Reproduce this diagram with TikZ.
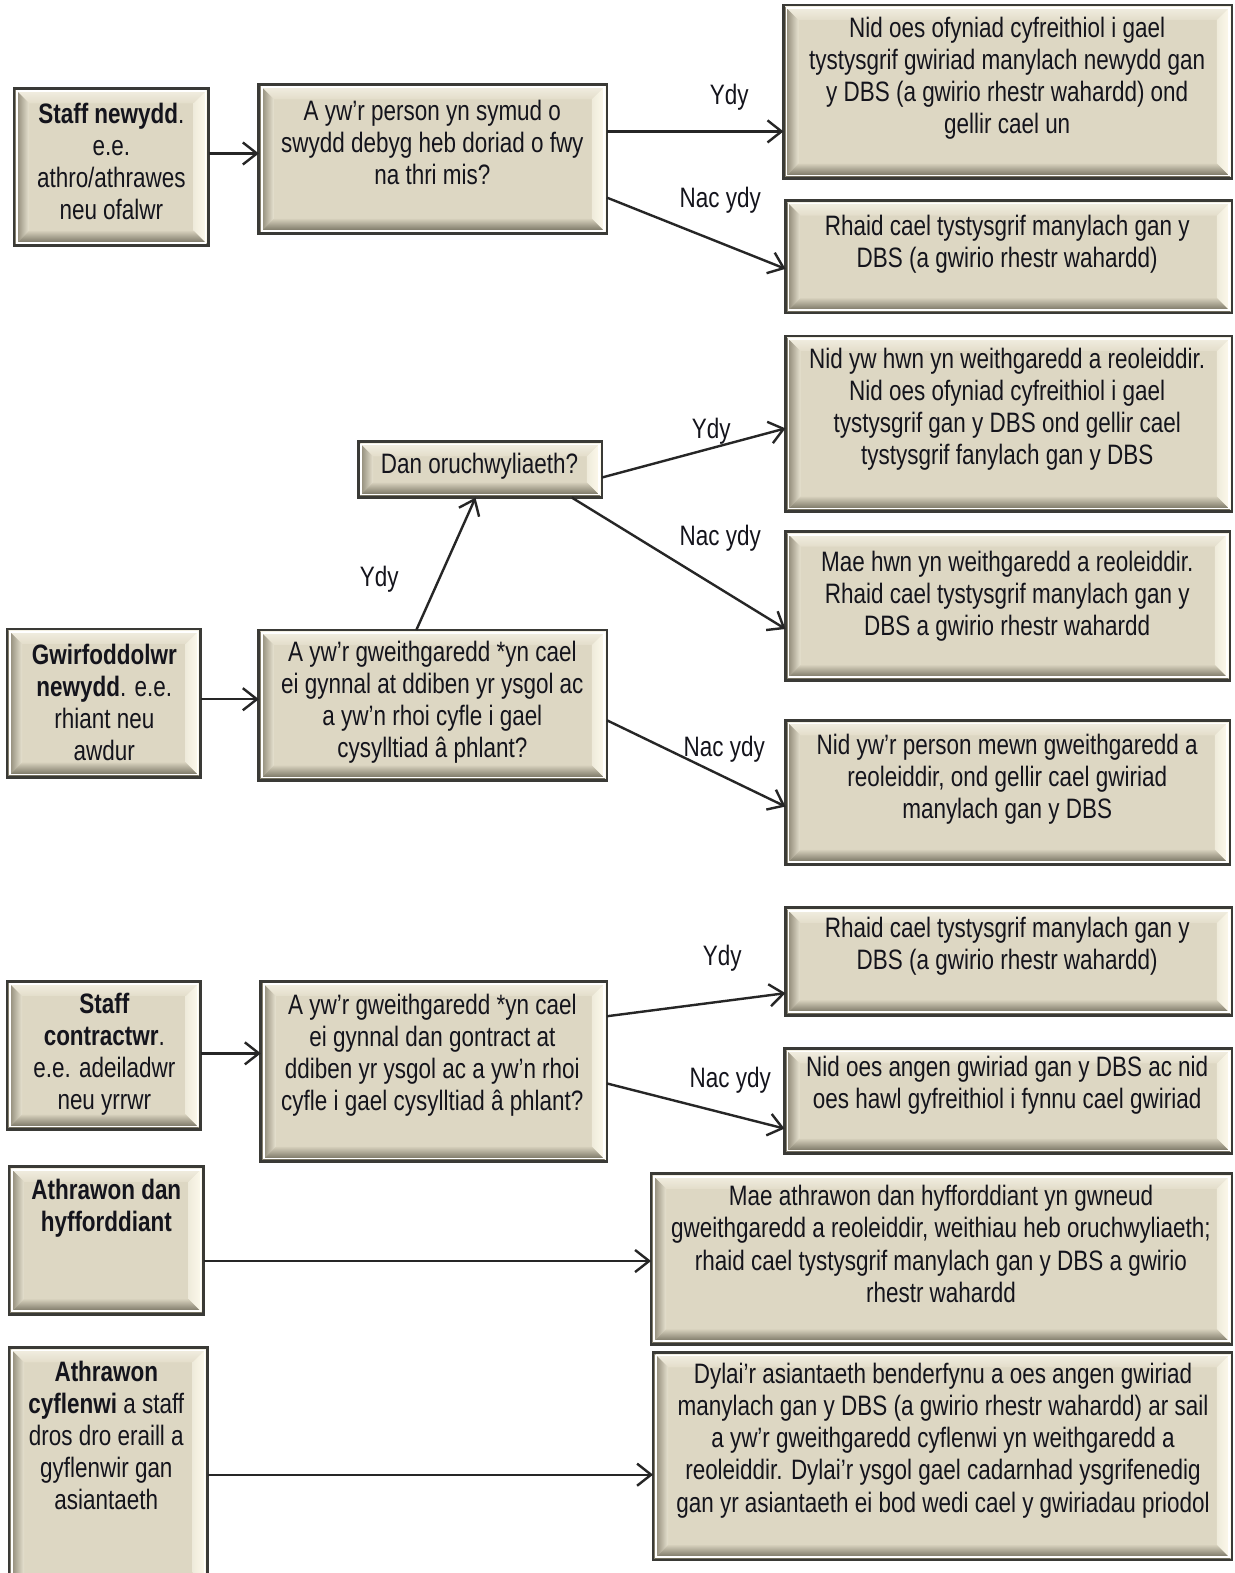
\documentclass[tikz,border=0pt]{standalone}
\usepackage{fontspec}
\setmainfont{Liberation Sans}[FakeStretch=0.8]
\usetikzlibrary{arrows.meta,fit,calc}
\definecolor{facecol}{HTML}{DDD7C3}
\definecolor{topA}{HTML}{F4F1E5}
\definecolor{topB}{HTML}{E3DDCA}
\definecolor{leftA}{HTML}{7E7866}
\definecolor{leftB}{HTML}{E8E3D1}
\definecolor{rightA}{HTML}{EFEBDB}
\definecolor{rightB}{HTML}{FFFCEF}
\definecolor{botA}{HTML}{D6D0BC}
\definecolor{botB}{HTML}{625E4E}
\definecolor{framecol}{HTML}{3A3A36}
\definecolor{textcol}{HTML}{14141C}
\def\bw{15}
\newcommand{\bevbox}[5]{%
  \fill[facecol] (#2,#3) rectangle (#4,#5);
  \shade[top color=topA, bottom color=topB] (#2,#3) -- (#4,#3) -- ({#4-\bw},{#3+\bw}) -- ({#2+\bw},{#3+\bw}) -- cycle;
  \shade[left color=leftA, right color=leftB] (#2,#3) -- ({#2+\bw},{#3+\bw}) -- ({#2+\bw},{#5-\bw}) -- (#2,#5) -- cycle;
  \shade[left color=rightA, right color=rightB] (#4,#3) -- (#4,#5) -- ({#4-\bw},{#5-\bw}) -- ({#4-\bw},{#3+\bw}) -- cycle;
  \shade[top color=botA, bottom color=botB] (#2,#5) -- ({#2+\bw},{#5-\bw}) -- ({#4-\bw},{#5-\bw}) -- (#4,#5) -- cycle;
  \draw[white, line width=0.8pt] ({#2+3},{#3+3}) rectangle ({#4-3},{#5-3});
  \node[boxframe, fit={(#2,#3) (#4,#5)}] (#1) {};
}
\begin{document}
\begin{tikzpicture}[x=0.5pt,y=-0.5pt,
  boxframe/.style={draw=framecol, line width=1.4pt, inner sep=0pt, outer sep=0pt},
  txt/.style={align=center, inner sep=0pt, text=textcol, font=\fontsize{14}{16}\selectfont},
  lbl/.style={inner sep=0pt, text=textcol, font=\fontsize{14}{16}\selectfont},
  arr/.style={line width=1.2pt, draw=black!85, -{Straight Barb[length=7pt,width=11pt,line width=1.2pt]}}]
\clip (0,0) rectangle (1231,1568);
\fill[white] (0,0) rectangle (1231,1568);

% ---------- row 1 ----------
\bevbox{a1}{14}{88}{208}{245}
\node[txt] (a1t) at (111,161) {\textbf{Staff newydd}.\\e.e.\\athro/athrawes\\neu ofalwr};
\bevbox{q1}{258}{84}{605}{233}
\node[txt] (q1t) at (431,142) {A yw'r person yn symud o\\swydd debyg heb doriad o fwy\\na thri mis?};
\bevbox{r1}{781}{5}{1228}{178}
\node[txt] (r1t) at (1004,78) {Nid oes ofyniad cyfreithiol i gael\\tystysgrif gwiriad manylach newydd gan\\y DBS (a gwirio rhestr wahardd) ond\\gellir cael un};
\bevbox{r2}{783}{200}{1228}{312}
\node[txt] (r2t) at (1004,243.5) {Rhaid cael tystysgrif manylach gan y\\DBS (a gwirio rhestr wahardd)};

\draw[arr] ($(a1.east)+(0,-13.5)$) -- ($(q1.west)+(0,-5.5)$);
\draw[arr] ($(q1.east)+(0,-27.5)$) -- ($(r1.west)+(0,39.5)$);
\draw[arr] ($(q1.east)+(0,38.5)$) -- ($(r2.west)+(0,12)$);
\node[lbl] (l1) at (727,97) {Ydy};
\node[lbl] (l2) at (718,200) {Nac ydy};

% ---------- row 2 ----------
\bevbox{d}{357}{440}{600}{496}
\node[txt] (dt) at (478,465) {Dan oruchwyliaeth?};
\bevbox{a2}{7}{627}{200}{775}
\node[txt] (a2t) at (104,700) {\textbf{Gwirfoddolwr}\\\textbf{newydd}. e.e.\\rhiant neu\\awdur};
\bevbox{q2}{258}{628}{605}{778}
\node[txt] (q2t) at (431,700) {A yw'r gweithgaredd *yn cael\\ei gynnal at ddiben yr ysgol ac\\a yw'n rhoi cyfle i gael\\cysylltiad â phlant?};
\bevbox{r3}{783}{335}{1228}{510}
\node[txt] (r3t) at (1004,408) {Nid yw hwn yn weithgaredd a reoleiddir.\\Nid oes ofyniad cyfreithiol i gael\\tystysgrif gan y DBS ond gellir cael\\tystysgrif fanylach gan y DBS};
\bevbox{r4}{783}{530}{1226}{678}
\node[txt] (r4t) at (1004,594) {Mae hwn yn weithgaredd a reoleiddir.\\Rhaid cael tystysgrif manylach gan y\\DBS a gwirio rhestr wahardd};
\bevbox{r5}{783}{718}{1226}{862}
\node[txt] (r5t) at (1004,777) {Nid yw'r person mewn gweithgaredd a\\reoleiddir, ond gellir cael gwiriad\\manylach gan y DBS};

\draw[arr] ($(a2.east)+(0,-4)$) -- ($(q2.west)+(0,-6)$);
\draw[arr] ($(q2.north)+(-16.5,0)$) -- ($(d.south)+(-4.5,0)$);
\draw[arr] ($(d.east)+(0,8)$) -- ($(r3.west)+(0,4.5)$);
\draw[arr] ($(d.south)+(91.5,0)$) -- ($(r4.west)+(0,23)$);
\draw[arr] ($(q2.east)+(0,15)$) -- ($(r5.west)+(0,14)$);
\node[lbl] (l3) at (378,577) {Ydy};
\node[lbl] (l4) at (709,430) {Ydy};
\node[lbl] (l5) at (718,537) {Nac ydy};
\node[lbl] (l6) at (722,747) {Nac ydy};

% ---------- row 3 ----------
\bevbox{r6}{783}{905}{1228}{1012}
\node[txt] (r6t) at (1004,943) {Rhaid cael tystysgrif manylach gan y\\DBS (a gwirio rhestr wahardd)};
\bevbox{r7}{782}{1045}{1228}{1150}
\node[txt] (r7t) at (1004,1081.5) {Nid oes angen gwiriad gan y DBS ac nid\\oes hawl gyfreithiol i fynnu cael gwiriad};
\bevbox{a3}{7}{978}{200}{1126}
\node[txt] (a3t) at (104,1051) {\textbf{Staff}\\\textbf{contractwr}.\\e.e. adeiladwr\\neu yrrwr};
\bevbox{q3}{260}{978}{605}{1158}
\node[txt] (q3t) at (431,1052) {A yw'r gweithgaredd *yn cael\\ei gynnal dan gontract at\\ddiben yr ysgol ac a yw'n rhoi\\cyfle i gael cysylltiad â phlant?};

\draw[arr] ($(a3.east)+(0,-2)$) -- ($(q3.west)+(0,-18)$);
\draw[arr] ($(q3.east)+(0,-55)$) -- ($(r6.west)+(0,31.5)$);
\draw[arr] ($(q3.east)+(0,12)$) -- ($(r7.west)+(0,27.5)$);
\node[lbl] (l7) at (720,955) {Ydy};
\node[lbl] (l8) at (728,1077) {Nac ydy};

% ---------- row 4 ----------
\bevbox{a4}{9}{1163}{203}{1310}
\node[txt] (a4t) at (106,1204) {\textbf{Athrawon dan}\\\textbf{hyfforddiant}};
\bevbox{r8}{649}{1170}{1228}{1340}
\node[txt] (r8t) at (938,1240) {Mae athrawon dan hyfforddiant yn gwneud\\gweithgaredd a reoleiddir, weithiau heb oruchwyliaeth;\\rhaid cael tystysgrif manylach gan y DBS a gwirio\\rhestr wahardd};
\draw[arr] ($(a4.east)+(0,20.5)$) -- ($(r8.west)+(0,2)$);

% ---------- row 5 ----------
\bevbox{a5}{9}{1343}{207}{1585}
\node[txt] (a5t) at (106,1431) {\textbf{Athrawon}\\\textbf{cyflenwi} a staff\\dros dro eraill a\\gyflenwir gan\\asiantaeth};
\bevbox{r9}{651}{1348}{1228}{1555}
\node[txt] (r9t) at (940,1436) {Dylai'r asiantaeth benderfynu a oes angen gwiriad\\manylach gan y DBS (a gwirio rhestr wahardd) ar sail\\a yw'r gweithgaredd cyflenwi yn weithgaredd a\\reoleiddir. Dylai'r ysgol gael cadarnhad ysgrifenedig\\gan yr asiantaeth ei bod wedi cael y gwiriadau priodol};
\draw[arr] ($(a5.east)+(0,6)$) -- ($(r9.west)+(0,18.5)$);
\end{tikzpicture}
\end{document}
